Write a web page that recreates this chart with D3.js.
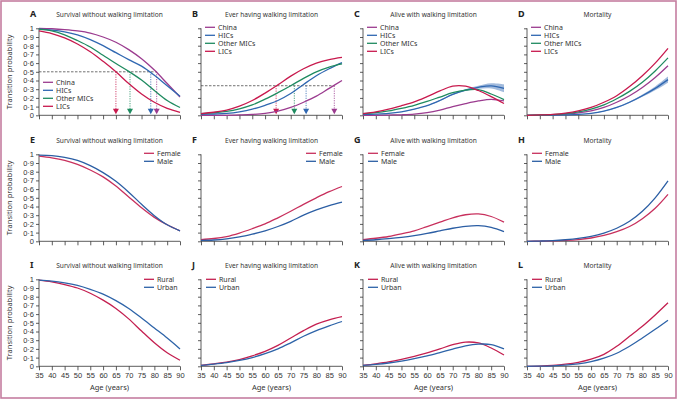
<!DOCTYPE html>
<html>
    <head>
        <meta charset="utf-8">
        <title>Walking limitation transitions</title>
        <style>
body {
    margin: 0;
    background-color: white;
    font-family: 'Noto Sans', 'Open Sans', sans-serif;
}

.axis path,
.axis line {
    stroke: #333;
    stroke-width: 0.8;
    fill: none;
}

.axis text {
    font-size: 7.5px;
    fill: #333;
}

.title {
    font-size: 6.6px;
    fill: #333;
    text-anchor: middle;
}

.letter {
    font-size: 9px;
    font-weight: bold;
    fill: #222;
}

.legend text {
    font-size: 7px;
    fill: #333;
}

.curve {
    fill: none;
    stroke-width: 1.3;
}
        </style>
        <script src="https://cdn.jsdelivr.net/npm/d3@7"></script>
    </head>
    <body>
        <script>
// ---- data ----
var ages = [35, 40, 45, 50, 55, 60, 65, 70, 75, 80, 85, 90];
var yTicks = [0, 0.1, 0.2, 0.3, 0.4, 0.5, 0.6, 0.7, 0.8, 0.9, 1];

var regionNames = ["China", "HICs", "Other MICs", "LICs"];
var sexNames = ["Female", "Male"];
var residenceNames = ["Rural", "Urban"];

var titles = ["Survival without walking limitation", "Ever having walking limitation",
    "Alive with walking limitation", "Mortality"];

// A-D by region
var survRegion = {
    "China":      [1.00, 0.995, 0.985, 0.97, 0.945, 0.90, 0.84, 0.755, 0.65, 0.52, 0.365, 0.21],
    "HICs":       [0.99, 0.98, 0.96, 0.925, 0.87, 0.80, 0.72, 0.64, 0.565, 0.46, 0.34, 0.22],
    "Other MICs": [0.99, 0.97, 0.925, 0.86, 0.785, 0.69, 0.595, 0.505, 0.405, 0.285, 0.17, 0.09],
    "LICs":       [0.97, 0.94, 0.89, 0.82, 0.73, 0.62, 0.50, 0.365, 0.245, 0.15, 0.08, 0.035]
};
var everRegion = {
    "China":      [0.0, 0.0, 0.0, 0.004, 0.01, 0.022, 0.048, 0.09, 0.15, 0.22, 0.31, 0.40],
    "HICs":       [0.01, 0.015, 0.022, 0.04, 0.07, 0.115, 0.17, 0.25, 0.355, 0.455, 0.535, 0.605],
    "Other MICs": [0.02, 0.03, 0.045, 0.075, 0.12, 0.185, 0.26, 0.34, 0.425, 0.50, 0.555, 0.59],
    "LICs":       [0.02, 0.035, 0.06, 0.105, 0.17, 0.255, 0.35, 0.45, 0.535, 0.60, 0.64, 0.665]
};
var aliveRegion = {
    "China":      [0.0, 0.0, 0.003, 0.006, 0.013, 0.03, 0.06, 0.10, 0.135, 0.165, 0.183, 0.165],
    "HICs":       [0.01, 0.014, 0.022, 0.04, 0.07, 0.11, 0.17, 0.24, 0.29, 0.322, 0.338, 0.31],
    "Other MICs": [0.02, 0.03, 0.05, 0.08, 0.115, 0.16, 0.21, 0.26, 0.29, 0.295, 0.245, 0.18],
    "LICs":       [0.02, 0.04, 0.07, 0.11, 0.155, 0.215, 0.28, 0.335, 0.335, 0.285, 0.215, 0.135]
};
var mortRegion = {
    "China":      [0, 0.002, 0.005, 0.013, 0.028, 0.052, 0.09, 0.15, 0.225, 0.32, 0.435, 0.57],
    "HICs":       [0, 0, 0.002, 0.005, 0.01, 0.022, 0.048, 0.09, 0.15, 0.225, 0.31, 0.41],
    "Other MICs": [0, 0.003, 0.008, 0.02, 0.04, 0.072, 0.12, 0.19, 0.275, 0.38, 0.51, 0.66],
    "LICs":       [0, 0.004, 0.011, 0.025, 0.05, 0.09, 0.15, 0.225, 0.33, 0.455, 0.60, 0.77]
};
// uncertainty band of HICs (half width)
var aliveHICsBand = [0, 0, 0, 0.002, 0.003, 0.004, 0.005, 0.007, 0.01, 0.018, 0.03, 0.045];
var mortHICsBand  = [0, 0, 0, 0, 0.001, 0.002, 0.003, 0.005, 0.008, 0.013, 0.022, 0.035];

// E-H by sex
var survSex = {
    "Female": [0.98, 0.96, 0.93, 0.885, 0.82, 0.74, 0.635, 0.51, 0.385, 0.275, 0.19, 0.12],
    "Male":   [0.99, 0.985, 0.965, 0.93, 0.87, 0.79, 0.69, 0.565, 0.425, 0.295, 0.19, 0.12]
};
var everSex = {
    "Female": [0.02, 0.032, 0.055, 0.095, 0.145, 0.20, 0.27, 0.345, 0.425, 0.50, 0.57, 0.63],
    "Male":   [0.01, 0.015, 0.028, 0.05, 0.082, 0.12, 0.17, 0.23, 0.30, 0.36, 0.41, 0.45]
};
var aliveSex = {
    "Female": [0.02, 0.035, 0.055, 0.085, 0.12, 0.17, 0.22, 0.27, 0.305, 0.315, 0.285, 0.22],
    "Male":   [0.01, 0.018, 0.03, 0.045, 0.065, 0.09, 0.12, 0.15, 0.172, 0.18, 0.16, 0.11]
};
var mortSex = {
    "Female": [0, 0.002, 0.005, 0.01, 0.02, 0.038, 0.067, 0.11, 0.17, 0.26, 0.38, 0.54],
    "Male":   [0, 0.003, 0.008, 0.018, 0.033, 0.057, 0.095, 0.15, 0.23, 0.345, 0.50, 0.695]
};

// I-L by residence
var survRes = {
    "Rural": [0.99, 0.97, 0.94, 0.90, 0.84, 0.76, 0.665, 0.545, 0.405, 0.27, 0.155, 0.07],
    "Urban": [0.99, 0.98, 0.96, 0.93, 0.885, 0.83, 0.755, 0.665, 0.555, 0.44, 0.325, 0.20]
};
var everRes = {
    "Rural": [0.01, 0.028, 0.048, 0.078, 0.12, 0.172, 0.24, 0.325, 0.41, 0.485, 0.535, 0.57],
    "Urban": [0.01, 0.025, 0.043, 0.067, 0.10, 0.145, 0.20, 0.27, 0.345, 0.41, 0.465, 0.515]
};
var aliveRes = {
    "Rural": [0.01, 0.028, 0.05, 0.08, 0.115, 0.155, 0.20, 0.248, 0.278, 0.268, 0.21, 0.13],
    "Urban": [0.01, 0.022, 0.038, 0.06, 0.088, 0.12, 0.158, 0.198, 0.235, 0.255, 0.25, 0.20]
};
var mortRes = {
    "Rural": [0, 0.003, 0.01, 0.024, 0.046, 0.082, 0.138, 0.23, 0.345, 0.46, 0.59, 0.73],
    "Urban": [0, 0.002, 0.006, 0.014, 0.028, 0.053, 0.093, 0.15, 0.23, 0.325, 0.425, 0.53]
};

// ages where each region reaches the reference probability (A: 0.5, B: 0.34)
var medianLevelA = 0.5;
var medianAgesA = {"China": 80.9, "HICs": 78.6, "Other MICs": 70.5, "LICs": 65};
var medianLevelB = 0.34;
var medianAgesB = {"China": 87, "HICs": 76, "Other MICs": 71.4, "LICs": 64.3};

// ---- styling / layout ----
var colors = {
    "China": "#9b3b8f", "HICs": "#2f67b1", "Other MICs": "#1f8b60", "LICs": "#c8194d",
    "Female": "#c8305d", "Male": "#2b5ea4", "Rural": "#c41f50", "Urban": "#2d63a8"
};

var width = 680, height = 401;
var colX = [39, 201, 363, 527];
var rowY = [28.3, 154.3, 279.3];
var plotW = 141, plotH = 87;

var svg = d3.select("body").append("svg")
    .attr("width", width)
    .attr("height", height);

svg.append("rect")
    .attr("x", 1).attr("y", 1)
    .attr("width", 675).attr("height", 397)
    .attr("fill", "none")
    .attr("stroke", "#c57ea0")
    .attr("stroke-width", 1.6);

var x = d3.scaleLinear().domain([35, 90]).range([0, plotW]);
var y = d3.scaleLinear().domain([0, 1]).range([plotH, 0]);

var tickFmt = function (d) {
    if (d === 0 || d === 1) return String(d);
    return d3.format(".1f")(d).replace(".", "\u00b7");
};

var line = d3.line()
    .x(function (d) { return x(d[0]); })
    .y(function (d) { return y(d[1]); })
    .curve(d3.curveCatmullRom.alpha(0.5));

var area = d3.area()
    .x(function (d) { return x(d[0]); })
    .y0(function (d) { return y(d[1] - d[2]); })
    .y1(function (d) { return y(d[1] + d[2]); })
    .curve(d3.curveCatmullRom.alpha(0.5));

var panels = [
    {letter: "A", col: 0, row: 0, names: regionNames, values: survRegion, legend: [4, 54]},
    {letter: "B", col: 1, row: 0, names: regionNames, values: everRegion, legend: [4, -1]},
    {letter: "C", col: 2, row: 0, names: regionNames, values: aliveRegion, legend: [4, -1], band: aliveHICsBand},
    {letter: "D", col: 3, row: 0, names: regionNames, values: mortRegion, legend: [4, -1], band: mortHICsBand},
    {letter: "E", col: 0, row: 1, names: sexNames, values: survSex, legend: [105, -1]},
    {letter: "F", col: 1, row: 1, names: sexNames, values: everSex, legend: [105, -1]},
    {letter: "G", col: 2, row: 1, names: sexNames, values: aliveSex, legend: [5, -1]},
    {letter: "H", col: 3, row: 1, names: sexNames, values: mortSex, legend: [5, -1]},
    {letter: "I", col: 0, row: 2, names: residenceNames, values: survRes, legend: [105, 0]},
    {letter: "J", col: 1, row: 2, names: residenceNames, values: everRes, legend: [5, 0]},
    {letter: "K", col: 2, row: 2, names: residenceNames, values: aliveRes, legend: [5, 0]},
    {letter: "L", col: 3, row: 2, names: residenceNames, values: mortRes, legend: [5, 0]}
];

panels.forEach(function (p) {
    var g = svg.append("g")
        .attr("transform", "translate(" + colX[p.col] + "," + rowY[p.row] + ")");

    g.append("text").attr("class", "letter")
        .attr("x", -9).attr("y", -11)
        .text(p.letter);
    g.append("text").attr("class", "title")
        .attr("x", plotW / 2).attr("y", -11)
        .text(titles[p.col]);

    // axes
    var yAxis = d3.axisLeft(y).tickValues(yTicks).tickSize(3).tickPadding(2)
        .tickFormat(p.col === 0 ? tickFmt : "");
    g.append("g").attr("class", "axis").call(yAxis)
        .select(".domain").attr("d", "M0," + y(0) + "V" + y(1));

    var xAxis = d3.axisBottom(x).tickValues(ages).tickSize(4).tickPadding(2)
        .tickFormat(p.row === 2 ? d3.format("d") : "");
    g.append("g").attr("class", "axis")
        .attr("transform", "translate(0," + plotH + ")")
        .call(xAxis)
        .select(".domain").attr("d", "M0,0H" + plotW);

    if (p.col === 0) {
        g.append("text")
            .attr("transform", "translate(-27," + (plotH / 2) + ") rotate(-90)")
            .attr("text-anchor", "middle")
            .style("font-size", "7.5px").style("fill", "#333")
            .text("Transition probability");
    }
    if (p.row === 2) {
        g.append("text")
            .attr("x", plotW / 2).attr("y", plotH + 24)
            .attr("text-anchor", "middle")
            .style("font-size", "7.5px").style("fill", "#333")
            .text("Age (years)");
    }

    // reference lines for A and B
    var level = null, medAges = null;
    if (p.letter === "A") { level = medianLevelA; medAges = medianAgesA; }
    if (p.letter === "B") { level = medianLevelB; medAges = medianAgesB; }
    if (level !== null) {
        var maxAge = d3.max(p.names, function (n) { return medAges[n]; });
        g.append("line")
            .attr("x1", 0).attr("x2", x(maxAge))
            .attr("y1", y(level)).attr("y2", y(level))
            .attr("stroke", "#333").attr("stroke-width", 0.7)
            .attr("stroke-dasharray", "2.5,1.5");
        p.names.forEach(function (n) {
            var ax = x(medAges[n]);
            g.append("line")
                .attr("x1", ax).attr("x2", ax)
                .attr("y1", y(level)).attr("y2", y(0) - 6)
                .attr("stroke", colors[n]).attr("stroke-width", 0.8)
                .attr("stroke-dasharray", "1.2,1.2");
            g.append("path")
                .attr("d", "M" + (ax - 3) + "," + (y(0) - 6.5) + "L" + (ax + 3) + "," + (y(0) - 6.5) +
                    "L" + ax + "," + (y(0) - 1) + "Z")
                .attr("fill", colors[n]);
        });
    }

    // curves
    p.names.forEach(function (n) {
        var pts = ages.map(function (a, i) { return [a, p.values[n][i]]; });
        if (p.band && n === "HICs") {
            var bpts = ages.map(function (a, i) { return [a, p.values[n][i], p.band[i]]; });
            g.append("path").attr("d", area(bpts))
                .attr("fill", colors[n]).attr("fill-opacity", 0.45);
        }
        g.append("path").attr("class", "curve")
            .attr("d", line(pts))
            .attr("stroke", colors[n]);
    });

    // legend
    var lg = g.append("g").attr("class", "legend")
        .attr("transform", "translate(" + p.legend[0] + "," + p.legend[1] + ")");
    p.names.forEach(function (n, i) {
        var ly = i * 8;
        lg.append("line")
            .attr("x1", 0).attr("x2", 10)
            .attr("y1", ly).attr("y2", ly)
            .attr("stroke", colors[n]).attr("stroke-width", 1.3);
        lg.append("text")
            .attr("x", 13).attr("y", ly)
            .attr("dy", "0.35em")
            .text(n);
    });
});
        </script>
    </body>
</html>
